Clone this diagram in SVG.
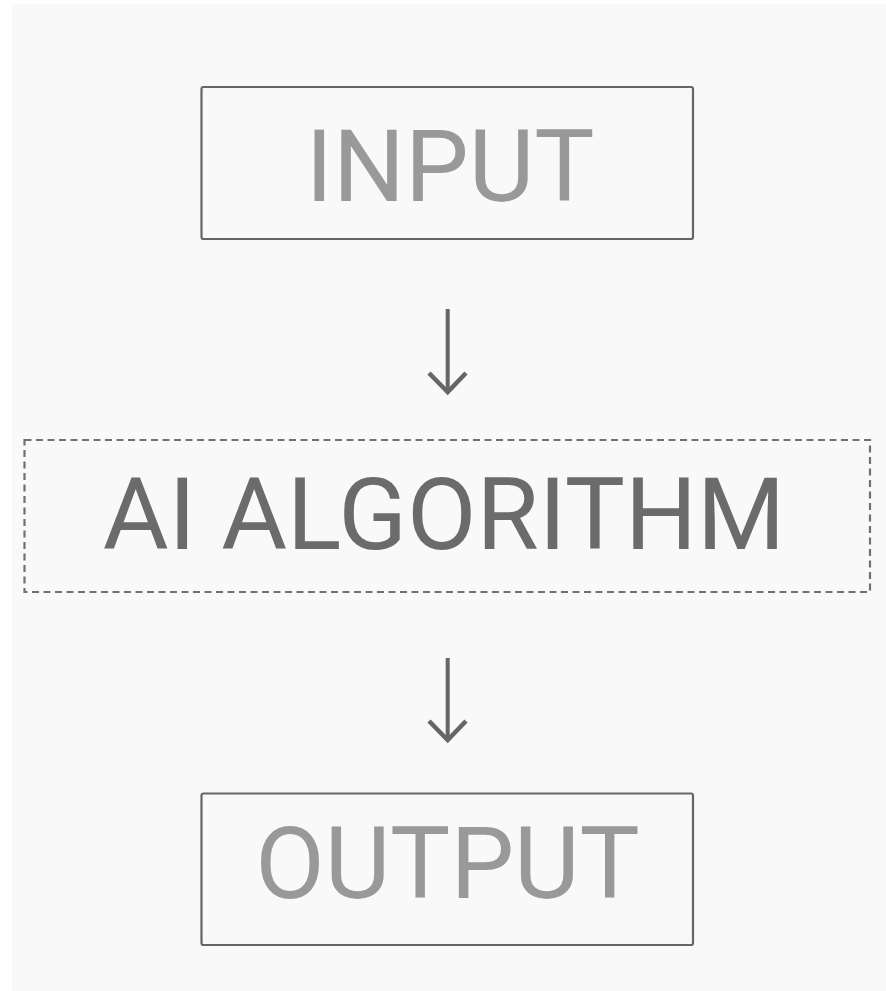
<svg xmlns="http://www.w3.org/2000/svg" width="886" height="991" viewBox="0 0 886 991">
  <style>
    .box { fill: none; stroke: #666666; stroke-width: 2.2; }
    .dashed { fill: none; stroke: #707070; stroke-width: 2.2; stroke-dasharray: 7 4.5; }
    .label { font-family: Roboto, "Liberation Sans", sans-serif; font-size: 101px; text-anchor: middle; }
    .light { fill: #999999; }
    .dark { fill: #6b6b6b; }
    .conn { stroke: #666666; stroke-width: 4; fill: none; }
    .head { fill: none; stroke: #666666; stroke-width: 4.5; stroke-linejoin: miter; stroke-linecap: butt; }
  </style>

  <rect x="0" y="0" width="886" height="991" fill="#ffffff"/>
  <rect x="12" y="4" width="874" height="987" fill="#f9f9f9"/>

  <g id="input">
    <rect class="box" x="201.5" y="87" width="491.5" height="152" rx="2"/>
    <text class="label light" x="450" y="200.5">INPUT</text>
  </g>

  <g id="ai-algorithm">
    <rect class="dashed" x="24.5" y="440" width="845.5" height="152"/>
    <text class="label dark" x="444" y="549">AI ALGORITHM</text>
  </g>

  <g id="output">
    <rect class="box" x="201.5" y="793.5" width="491.5" height="151.5" rx="2"/>
    <text class="label light" x="447.5" y="898">OUTPUT</text>
  </g>

  <g id="connectors">
    <line class="conn" x1="447.7" y1="309" x2="447.7" y2="392"/>
    <path class="head" d="M429,373 L447.7,392 L466,373"/>
    <line class="conn" x1="447.7" y1="658" x2="447.7" y2="740"/>
    <path class="head" d="M429,721 L447.7,740 L466,721"/>
  </g>
</svg>
